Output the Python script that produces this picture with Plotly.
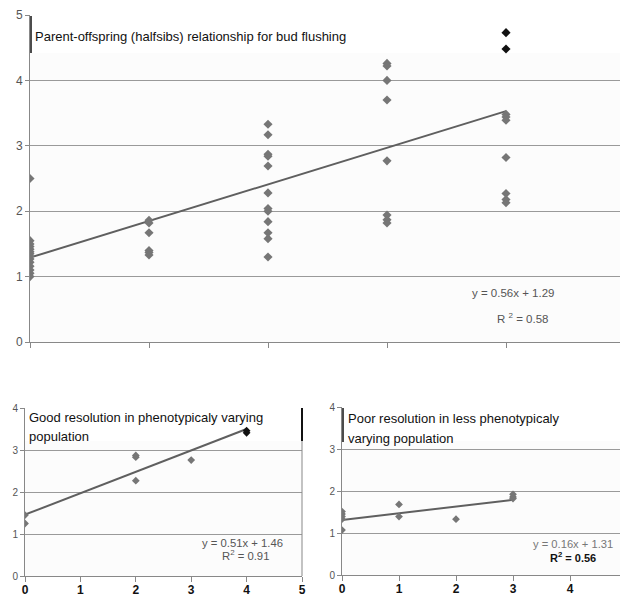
import plotly.graph_objects as go

# page has an 8px body margin, so the figure is offset by 8px
OFF = 8
W, H = 620, 588

# ---------------- data ----------------
# Top panel: parent-offspring (halfsibs) bud flushing
top_x = [0]*14 + [1]*6 + [2]*12 + [3]*8 + [4]*7
top_y = [2.5, 1.55, 1.5, 1.46, 1.42, 1.38, 1.35, 1.31, 1.27, 1.22, 1.16, 1.1, 1.05, 1.0,
         1.86, 1.82, 1.67, 1.40, 1.37, 1.33,
         3.33, 3.17, 2.87, 2.84, 2.69, 2.28, 2.04, 2.0, 1.84, 1.67, 1.58, 1.30,
         4.26, 4.22, 4.0, 3.70, 2.77, 1.94, 1.87, 1.82,
         3.48, 3.44, 3.39, 2.82, 2.27, 2.18, 2.13]
top_hi_x = [4, 4]
top_hi_y = [4.73, 4.48]
top_slope, top_intercept = 0.56, 1.29

# Bottom-left: good resolution
bl_x = [0, 0, 2, 2, 2, 3]
bl_y = [1.45, 1.25, 2.87, 2.83, 2.27, 2.76]
bl_hi_x = [4, 4]
bl_hi_y = [3.46, 3.41]
bl_slope, bl_intercept = 0.51, 1.46

# Bottom-right: poor resolution
br_x = [0, 0, 0, 0, 0, 1, 1, 2, 3, 3, 3]
br_y = [1.51, 1.45, 1.39, 1.33, 1.07, 1.68, 1.39, 1.33, 1.92, 1.86, 1.82]
br_slope, br_intercept = 0.16, 1.31

x_ticks = [0, 1, 2, 3, 4, 5]
top_y_ticks = [0, 1, 2, 3, 4, 5]
bot_y_ticks = [0, 1, 2, 3, 4]

# ---------------- helpers ----------------
def px(x):
    return (x - OFF) / W

def py(y):
    return 1 - (y - OFF) / H

PT = "#767676"
LINE = "#5f5f5f"
GRID = "#9a9a9a"
FONT = "Liberation Sans, Arial, sans-serif"

fig = go.Figure()

def add_panel(ax, xs, ys, hx, hy, slope, icpt, msize):
    xa = "x" if ax == 1 else f"x{ax}"
    ya = "y" if ax == 1 else f"y{ax}"
    allx = xs + hx
    x0, x1 = min(allx), max(allx)
    fig.add_trace(go.Scatter(x=[x0, x1], y=[slope*x0 + icpt, slope*x1 + icpt],
                             mode="lines", line=dict(color=LINE, width=2),
                             xaxis=xa, yaxis=ya, showlegend=False, hoverinfo="skip"))
    fig.add_trace(go.Scatter(x=xs, y=ys, mode="markers",
                             marker=dict(symbol="diamond", size=msize, color=PT),
                             xaxis=xa, yaxis=ya, showlegend=False))
    if hx:
        fig.add_trace(go.Scatter(x=hx, y=hy, mode="markers",
                                 marker=dict(symbol="diamond", size=msize, color="#111111"),
                                 xaxis=xa, yaxis=ya, showlegend=False))

add_panel(1, top_x, top_y, top_hi_x, top_hi_y, top_slope, top_intercept, 7)
add_panel(2, bl_x, bl_y, bl_hi_x, bl_hi_y, bl_slope, bl_intercept, 6)
add_panel(3, br_x, br_y, [], [], br_slope, br_intercept, 6)

# panel pixel geometry (window pixels): (left, right, top(ymax), bottom(y=0))
P1 = (30, 625, 15, 342)
P2 = (25, 302, 408, 576)
P3 = (342, 627, 407, 575)

def xaxis(p, labels, anchor):
    d = dict(domain=[px(p[0]), px(p[1])], range=[0, 5], tickvals=x_ticks,
             showgrid=False, zeroline=False, showline=True, linecolor="#888888",
             linewidth=1, ticks="outside", ticklen=5, tickcolor="#888888",
             anchor=anchor, fixedrange=True, automargin=False)
    if labels:
        d.update(ticktext=[str(v) for v in x_ticks], ticklabelstandoff=-2,
                 tickfont=dict(family=FONT, size=12, color="#111111", weight="bold"))
    else:
        d.update(showticklabels=False)
    return d

def yaxis(p, ymax, ticks, fs, anchor):
    return dict(domain=[py(p[3]), py(p[2])], range=[0, ymax], tickvals=ticks,
                showgrid=True, gridcolor=GRID, gridwidth=1, zeroline=False,
                showline=True, linecolor="#888888", linewidth=1, ticks="outside",
                ticklen=4, tickcolor="#888888", anchor=anchor, automargin=False,
                tickfont=dict(family=FONT, size=fs, color="#555555"), fixedrange=True)

fig.update_layout(
    width=W, height=H, margin=dict(l=0, r=0, t=0, b=0, pad=0),
    paper_bgcolor="white", plot_bgcolor="#fcfcfc",
    xaxis=xaxis(P1, False, "y"), yaxis=yaxis(P1, 5, top_y_ticks, 12, "x"),
    xaxis2=xaxis(P2, True, "y2"), yaxis2=yaxis(P2, 4, bot_y_ticks, 10, "x2"),
    xaxis3=xaxis(P3, True, "y3"), yaxis3=yaxis(P3, 4, bot_y_ticks, 10, "x3"),
    font=dict(family=FONT),
)

shapes = []
def rect(x0, y0, x1, y1, fill="white", layer="below"):
    shapes.append(dict(type="rect", xref="paper", yref="paper",
                       x0=px(x0), x1=px(x1), y0=py(y1), y1=py(y0),
                       fillcolor=fill, line=dict(color=fill, width=0), layer=layer))

def vline(x, y0, y1, color, width):
    shapes.append(dict(type="line", xref="paper", yref="paper",
                       x0=px(x), x1=px(x), y0=py(y0), y1=py(y1),
                       line=dict(color=color, width=width), layer="above"))

# white title boxes
rect(30, 15, 625, 53)
rect(25, 408, 302, 441)
rect(342, 407, 627, 441)
# borders
vline(625, 15, 342, "#888888", 1)
vline(31, 16, 53, "#111111", 1.5)
vline(625, 16, 53, "#333333", 1.5)
vline(302, 408, 576, "#888888", 1)
vline(302, 408, 441, "#111111", 2)
vline(343, 408, 442, "#111111", 1.5)
fig.update_layout(shapes=shapes)

ann = []
def text(x, y, s, size=11, color="#111111", xanchor="left", bold=False):
    ann.append(dict(xref="paper", yref="paper", x=px(x), y=py(y), text=s,
                    showarrow=False, xanchor=xanchor, yanchor="middle",
                    font=dict(family=FONT, size=size, color=color,
                              weight="bold" if bold else "normal")))

text(33, 36, "Parent-offspring (halfsibs) relationship for bud flushing", size=13)
text(27, 417, "Good resolution in phenotypicaly varying", size=13)
text(27, 436, "population", size=13)
text(346, 418, "Poor resolution in less phenotypicaly", size=13)
text(346, 438, "varying population", size=13)

text(513, 293, f"y = {top_slope}x + {top_intercept}", size=11.5, color="#555555", xanchor="center")
text(522, 318, "R <sup>2</sup> = 0.58", size=11.5, color="#555555", xanchor="center")
text(242, 543, f"y = {bl_slope}x + {bl_intercept}", size=11.3, color="#555555", xanchor="center")
text(245, 555, "R<sup>2</sup> = 0.91", size=11.3, color="#555555", xanchor="center")
text(573, 544, f"y = {br_slope}x + {br_intercept}", size=11.2, color="#777777", xanchor="center")
text(573, 557, "R<sup>2</sup> = 0.56", size=11, color="#111111", xanchor="center", bold=True)
fig.update_layout(annotations=ann)

fig.write_html("out.html")
